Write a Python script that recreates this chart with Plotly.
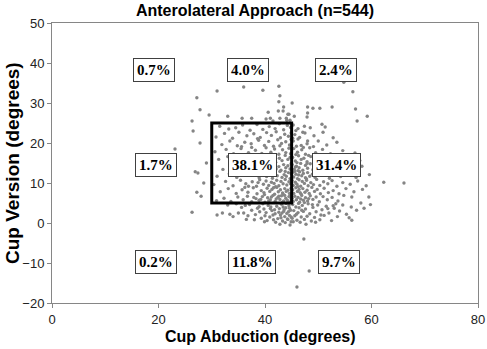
import plotly.graph_objects as go

# ---- data (degrees) ----
# zone: 30-45 abduction, 5-25 version (38.1%)
box_x = [31.5,33.2,34.5,35.8,37.2,38.5,39.6,40.8,41.9,42.7,43.5,44.2,44.8,
         30.8,32.4,33.9,35.1,36.6,37.9,39.1,40.3,41.2,42.1,42.9,43.7,44.4,44.9,38.6,
         31.9,33.4,34.8,36.2,37.4,38.8,39.9,40.7,41.6,42.4,43.1,43.9,44.6,44.9,35.6,42.8,
         30.6,32.7,34.1,35.5,36.9,38.2,39.4,40.2,41.1,41.8,42.6,43.3,43.9,44.5,44.8,37.5,40.9,
         31.3,33.0,34.4,35.9,37.1,38.4,39.2,39.9,40.6,41.4,42.0,42.7,43.2,43.8,44.3,44.7,41.0,38.9,
         32.1,33.8,35.3,36.5,37.7,38.6,39.5,40.1,40.8,41.5,42.1,42.6,43.0,43.5,43.9,44.3,44.7,44.9,41.2,37.0,
         31.0,33.3,34.7,36.1,37.3,38.1,38.9,39.6,40.3,40.9,41.4,41.9,42.3,42.8,43.2,43.6,44.0,44.4,44.7,44.9,40.6,39.2,43.8,
         30.4,32.6,34.0,35.4,36.4,37.6,38.4,39.0,39.7,40.2,40.7,41.2,41.7,42.2,42.6,43.0,43.4,43.8,44.1,44.5,44.8,44.9,42.0,38.7,36.9,
         31.6,33.1,34.6,35.7,36.8,37.8,38.5,39.3,39.8,40.4,40.9,41.3,41.8,42.2,42.5,42.9,43.3,43.7,44.0,44.3,44.6,44.9,41.6,39.9,36.2,43.5,
         30.9,32.3,33.6,34.9,35.9,36.7,37.5,38.3,38.9,39.5,40.0,40.5,41.0,41.5,41.9,42.4,42.8,43.1,43.5,43.9,44.2,44.5,44.8,44.9,40.7,42.1,43.7,39.2,37.9,44.4,41.2,43.3,42.6,44.7]
box_y = [24.2,23.5,23.8,24.5,23.2,24.6,23.4,24.1,23.6,24.8,23.3,24.4,23.9,
         21.5,22.4,21.2,22.7,21.8,22.3,21.4,22.6,21.9,22.8,21.3,22.2,21.7,22.5,21.1,
         19.6,20.5,19.3,20.2,19.8,20.7,19.4,20.4,19.2,20.8,19.9,20.3,19.5,20.9,19.1,19.3,
         17.8,18.4,17.3,18.6,17.6,18.2,17.4,18.8,17.7,18.5,17.2,18.3,17.6,18.7,17.3,18.9,17.1,
         15.9,16.6,15.4,16.3,15.8,16.8,15.3,16.1,15.7,16.5,15.2,16.2,15.6,16.9,15.9,16.4,16.9,15.1,
         13.4,14.5,13.2,14.2,13.6,14.8,13.3,14.4,13.7,14.9,13.5,14.1,13.2,14.6,13.8,14.3,13.5,14.8,13.1,14.9,
         11.7,12.3,11.4,12.6,11.9,12.8,11.3,12.2,11.6,12.7,11.2,12.4,11.8,12.9,11.4,12.1,11.7,12.6,11.1,12.3,12.9,11.9,12.9,
         9.6,10.4,9.3,10.7,9.8,10.3,9.2,10.8,9.7,10.5,9.4,10.2,9.9,10.7,9.3,10.4,9.8,10.9,9.5,10.3,9.8,10.8,9.1,10.1,9.2,
         7.8,8.6,7.4,8.3,7.7,8.8,7.3,8.1,7.6,8.7,7.9,8.4,7.2,8.9,7.8,8.3,7.5,8.6,7.9,8.2,7.4,8.7,8.8,7.1,8.9,7.1,
         5.6,6.2,5.4,6.5,5.8,6.7,5.3,6.1,5.7,6.6,5.2,6.3,5.8,6.9,5.4,6.4,5.9,6.8,5.5,6.2,5.7,6.6,5.3,6.1,5.5,6.0,6.9,5.9,6.4,5.1,6.5,5.2,6.7,6.8]

# zone: >45 abduction, 5-25 version (31.4%)
rmid_x = [45.3,46.2,47.4,50.7,51.3,45.8,48.5,
          45.6,46.5,47.1,47.5,49.2,50.9,52.8,45.2,
          45.3,46.2,48.0,50.0,46.8,47.9,51.6,53.5,45.9,49.1,
          45.4,46.1,46.9,47.6,48.4,49.5,50.8,52.3,54.6,56.9,45.8,47.2,
          45.2,45.7,46.3,46.8,47.3,47.9,48.6,49.3,50.1,51.2,52.5,53.8,55.4,57.8,46.0,48.2,
          45.1,45.5,45.9,46.4,46.7,47.1,47.6,48.0,48.5,49.0,49.6,50.3,51.0,51.8,52.7,53.6,54.9,56.3,58.2,46.2,47.9,45.7,
          45.2,45.4,45.8,46.1,46.5,46.9,47.2,47.6,48.0,48.4,48.9,49.4,49.9,50.6,51.3,52.1,53.0,54.2,55.5,57.1,59.6,46.3,47.8,45.6,
          45.1,45.3,45.7,46.0,46.4,46.7,47.0,47.4,47.8,48.1,48.6,49.1,49.7,50.3,51.0,51.8,52.6,53.5,54.6,56.0,57.4,59.0,62.3,66.1,46.2,
          45.2,45.4,45.8,46.1,46.4,46.8,47.1,47.5,47.9,48.3,48.8,49.3,49.8,50.4,51.1,51.9,52.8,53.9,55.2,56.7,58.3,46.6,
          45.1,45.3,45.6,45.9,46.2,46.5,46.9,47.2,47.6,48.0,48.5,49.0,49.6,50.2,50.9,51.7,52.6,53.7,54.8,56.3,58.0,59.5,46.7,47.4,48.2]
rmid_y = [24.5,23.6,24.2,24.7,24.0,23.1,23.8,
          22.1,21.4,22.7,22.5,21.8,22.7,21.3,21.2,
          20.5,21.0,20.5,20.5,19.4,19.8,19.5,20.2,19.2,19.1,
          18.6,17.7,18.3,17.2,18.8,17.6,18.4,17.3,18.1,17.5,17.1,18.9,
          16.4,15.5,16.8,15.9,16.2,15.3,16.6,15.7,16.3,15.4,16.5,15.8,16.2,15.6,15.1,16.9,
          14.6,13.4,14.2,13.8,14.9,13.2,14.4,13.7,14.8,13.3,14.1,13.6,14.7,13.4,14.3,13.1,14.5,13.7,14.2,13.1,14.9,14.0,
          12.7,11.5,12.2,11.1,12.8,11.8,12.4,11.3,12.6,11.7,12.2,11.4,12.9,11.9,12.5,11.2,12.3,11.6,12.8,11.4,12.1,12.0,11.0,12.9,
          10.6,9.4,10.2,9.7,10.8,9.2,10.4,9.9,10.7,9.3,10.1,9.6,10.9,9.4,10.3,9.8,10.6,9.2,10.1,9.7,10.5,9.3,10.2,10.0,9.1,
          8.3,7.4,8.8,7.9,8.4,7.2,8.6,7.7,8.2,7.4,8.9,7.9,8.4,7.3,8.7,7.6,8.1,7.3,8.6,7.8,8.4,7.6,
          6.2,5.4,6.7,5.8,6.4,5.2,6.9,5.7,6.3,5.5,6.8,5.9,6.5,5.3,6.6,5.8,6.4,5.5,6.9,6.5,5.0,6.5,6.0,5.1,6.1]

# zone: 30-45 abduction, <5 version (11.8%)
bmid_x = [31.0,32.0,33.4,34.0,35.0,36.0,36.8,37.5,38.2,38.9,
          39.3,39.8,40.2,40.6,40.9,41.3,41.6,41.9,42.2,42.4,
          42.7,42.9,43.1,43.3,43.5,43.7,43.9,44.1,44.3,44.5,
          44.6,44.8,44.9,37.1,38.6,39.6,40.4,41.1,41.8,42.0,
          42.6,43.0,43.4,43.8,44.0,44.4,44.7,44.9,35.6,36.3,
          34.6,33.0,39.0,40.0,41.5,42.8,43.6,44.2,38.0,36.5,
          44.6,43.2,41.0,39.9]
bmid_y = [2.0,2.5,2.2,1.6,2.5,2.5,1.8,3.2,2.1,4.1,
          1.2,3.5,2.6,4.4,1.5,3.1,0.8,2.3,4.2,1.1,
          3.6,2.0,4.7,0.5,2.9,1.6,3.8,2.4,0.9,4.3,
          1.9,3.2,0.3,4.6,3.7,4.8,0.6,4.0,3.3,0.2,
          2.7,1.3,4.0,0.1,4.9,2.8,-0.5,1.5,3.9,4.4,
          4.8,4.5,2.8,1.8,2.0,-0.3,3.3,1.0,0.8,0.9,
          3.7,2.5,3.6,0.3]

# zone: >45 abduction, <5 version (9.7%)
bright_x = [45.2,45.4,45.6,45.8,46.0,46.2,46.4,46.6,46.8,47.0,
            47.2,47.4,47.6,47.9,48.1,48.4,48.7,49.0,49.3,49.6,
            49.9,50.3,50.7,51.1,51.5,52.0,52.5,53.0,53.6,54.0,
            54.6,55.3,56.2,56.3,57.2,58.6,59.8,45.3,45.9,46.3,
            47.7,48.9,50.5,51.8,53.3,46.9,49.5,45.1,52.8,47.3,
            48.3,46.0,55.8]
bright_y = [4.6,3.1,1.8,4.0,0.7,2.6,3.8,0.2,1.5,4.4,
            2.9,0.9,3.5,1.7,4.8,2.3,0.5,3.9,1.4,2.8,
            4.5,0.8,3.3,1.9,4.2,2.5,0.6,3.7,1.6,3.0,
            4.5,2.2,4.0,0.7,3.2,3.7,4.6,0.3,2.2,4.9,
            -0.3,4.6,2.0,3.6,4.8,3.2,0.2,1.2,4.3,-4.0,
            -12.0,-16.0,1.3]

# zone: 30-45 abduction, >25 version (4.0%)
tmid_x = [31.0,36.0,39.6,42.6,42.8,42.6,33.0,35.7,37.5,40.6,40.2,41.0,42.5,43.4,42.8,44.0,44.3,44.5,44.1,44.7,43.5,41.5]
tmid_y = [33.0,34.0,33.2,34.2,31.8,30.3,26.7,26.2,26.2,27.7,26.0,26.2,28.0,28.0,26.2,26.2,27.2,27.2,25.7,25.7,29.0,25.5]

# zone: >45 abduction, >25 version (2.4%)
tright_x = [54.8,56.5,45.1,48.0,49.0,50.3,52.6,57.0,59.2,57.3,48.0,47.9,45.5]
tright_y = [35.2,32.8,30.0,29.0,28.7,28.7,29.0,28.5,26.7,25.5,27.5,26.5,26.7]

# zones with abduction < 30
left_x = [27.2,27.8,26.3,29.5, 23.1,26.5,27.8,26.9,27.4,27.2,28.0,29.0,28.5, 26.3]
left_y = [31.3,28.3,25.5,27.0, 18.5,23.0,20.0,12.8,12.5,7.7,6.7,15.0,10.0, 2.7]

# safe-zone bounds
zone_x = [30, 45]
zone_y = [5, 25]

# percentage labels
pct_labels = ["0.7%", "4.0%", "2.4%", "1.7%", "38.1%", "31.4%", "0.2%", "11.8%", "9.7%"]
pct_x = [19.2, 36.9, 53.4, 19.6, 37.6, 53.4, 19.6, 37.6, 53.9]
pct_y = [38.25, 38.25, 38.25, 14.6, 14.6, 14.6, -9.75, -9.75, -9.75]

x_all = box_x + rmid_x + bmid_x + bright_x + tmid_x + tright_x + left_x
y_all = box_y + rmid_y + bmid_y + bright_y + tmid_y + tright_y + left_y

W, H = 487, 349
ML, MR, MT, MB = 52, 9, 23, 46

fig = go.Figure()
fig.add_trace(go.Scatter(
    x=x_all, y=y_all, mode="markers",
    marker=dict(color="#858585", size=3.4, symbol="circle", line=dict(width=0)),
    showlegend=False, hoverinfo="x+y"))

fig.add_shape(type="rect", x0=zone_x[0], x1=zone_x[1], y0=zone_y[0], y1=zone_y[1],
              xref="x", yref="y", line=dict(color="black", width=3), layer="above")

for t, xx, yy in zip(pct_labels, pct_x, pct_y):
    fig.add_annotation(x=xx, y=yy, xref="x", yref="y", text="<b>%s</b>" % t,
                       showarrow=False, bgcolor="white", bordercolor="#404040",
                       borderwidth=1, borderpad=3,
                       font=dict(family="Liberation Serif, Times New Roman, serif", size=15, color="black"))

axis_common = dict(showgrid=False, zeroline=False, showline=True, linecolor="#868686",
                   linewidth=1, mirror=True, ticks="outside", ticklen=4, tickcolor="#868686",
                   automargin=False,
                   tickfont=dict(family="Liberation Sans, Arial, sans-serif", size=13, color="#222222"))

fig.update_xaxes(range=[0, 80], dtick=20, **axis_common)
fig.update_yaxes(range=[-20, 50], dtick=10, **axis_common)

sans = "Liberation Sans, Arial, sans-serif"
plot_w = W - ML - MR
plot_h = H - MT - MB
# x-axis title
fig.add_annotation(text="<b>Cup Abduction (degrees)</b>", xref="paper", yref="paper",
                   x=(260 - ML) / plot_w, y=-(336 - (H - MB)) / plot_h,
                   xanchor="center", yanchor="middle", showarrow=False,
                   font=dict(family=sans, size=16, color="black"))
# y-axis title
fig.add_annotation(text="<b>Cup Version (degrees)</b>", xref="paper", yref="paper",
                   x=-(ML - 12) / plot_w, y=((H - MB) - 163) / plot_h, textangle=-90,
                   xanchor="center", yanchor="middle", showarrow=False,
                   font=dict(family=sans, size=19, color="black"))

fig.update_layout(
    width=W, height=H,
    margin=dict(l=ML, r=MR, t=MT, b=MB),
    plot_bgcolor="white", paper_bgcolor="white",
    title=dict(text="<b>Anterolateral Approach (n=544)</b>", x=255 / W, xanchor="center",
               y=1 - 10 / H, yanchor="middle", font=dict(family=sans, size=16, color="black")),
)

fig.write_html("out.html", config={"displayModeBar": False},
               post_script="document.body.style.margin='0';document.body.style.padding='0';document.body.style.overflow='hidden';")
